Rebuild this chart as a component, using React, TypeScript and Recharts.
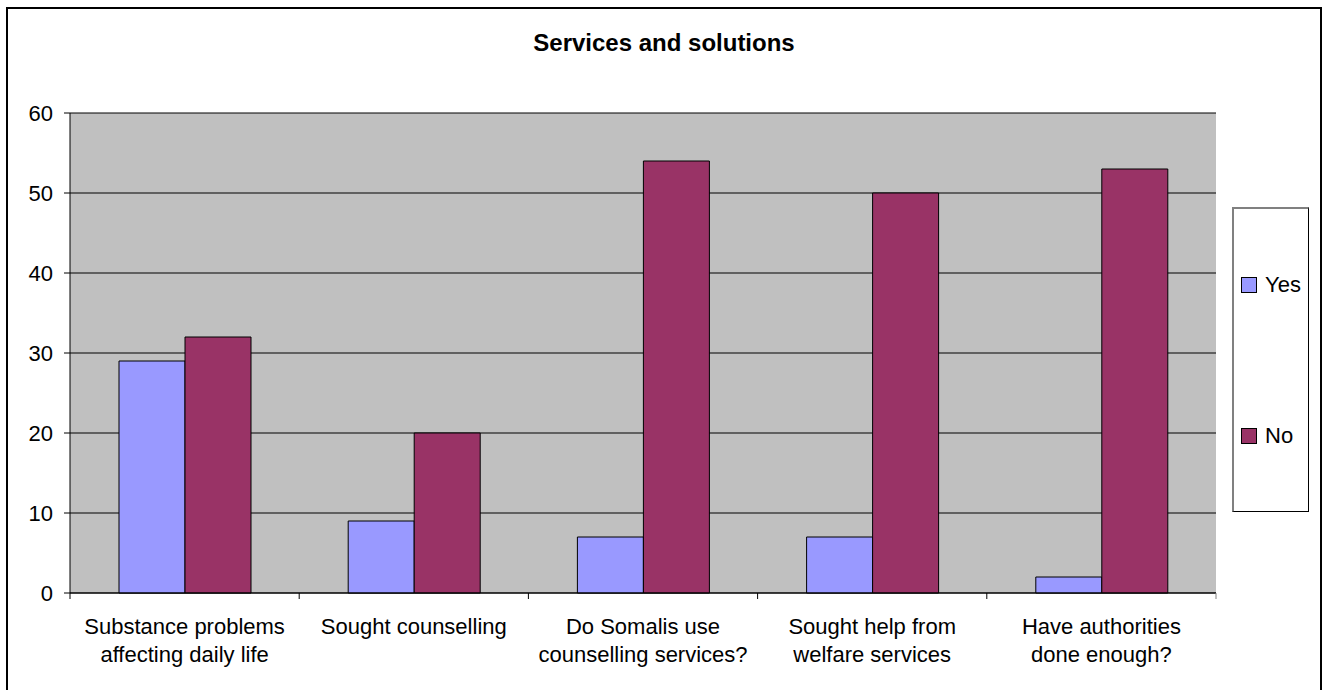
import React from "react"
import { BarChart, Bar, XAxis, YAxis, CartesianGrid, Legend } from "recharts"

const FONT = "'Liberation Sans', Arial, sans-serif"

// survey questions along the x axis
const categories = [
  "Substance problems\naffecting daily life",
  "Sought counselling",
  "Do Somalis use\ncounselling services?",
  "Sought help from\nwelfare services",
  "Have authorities\ndone enough?",
]
const seriesNames = ["Yes", "No"]
const yesValues = [29, 9, 7, 7, 2]
const noValues = [32, 20, 54, 50, 53]
const yTicks = [0, 10, 20, 30, 40, 50, 60]

const data = categories.map((question, i) => ({
  question,
  yes: yesValues[i],
  no: noValues[i],
}))

// Category label (multi-line) plus tick marks on the band boundaries
function CategoryTick(props: any) {
  const { x, y, payload, index, visibleTicksCount } = props
  const half = payload.offset ?? 0
  const lines = String(payload.value).split("\n")
  return (
    <g>
      <line x1={x - half} x2={x - half} y1={y - 6} y2={y} stroke="#000" />
      {index === visibleTicksCount - 1 && (
        <line x1={x + half} x2={x + half} y1={y - 6} y2={y} stroke="#808080" />
      )}
      <text x={x} y={y + 35} textAnchor="middle" fill="#000" fontSize={22} fontFamily={FONT}>
        {lines.map((line, i) => (
          <tspan key={i} x={x} dy={i === 0 ? 0 : 28}>
            {line}
          </tspan>
        ))}
      </text>
    </g>
  )
}

function LegendBox({ payload }: any) {
  const items = [...(payload || [])].sort(
    (a: any, b: any) => seriesNames.indexOf(a.value) - seriesNames.indexOf(b.value)
  )
  return (
    <div
      style={{
        width: 77,
        height: 305,
        boxSizing: "border-box",
        borderTop: "2px solid #808080",
        borderLeft: "2px solid #808080",
        borderRight: "1px solid #000",
        borderBottom: "1px solid #000",
        background: "#fff",
        display: "flex",
        flexDirection: "column",
        justifyContent: "space-around",
        fontFamily: FONT,
      }}
    >
      {items.map((item: any) => (
        <div key={item.value} style={{ display: "flex", alignItems: "center", paddingLeft: 7 }}>
          <span
            style={{
              display: "inline-block",
              width: 14,
              height: 14,
              border: "1px solid #000",
              background: item.color,
            }}
          />
          <span style={{ marginLeft: 8, fontSize: 22, lineHeight: "22px", color: "#000" }}>{item.value}</span>
        </div>
      ))}
    </div>
  )
}

export default function App() {
  return (
    <div style={{ position: "absolute", left: 0, top: 0, width: 1323, height: 690, overflow: "hidden", background: "#fff" }}>
      <div
        style={{
          position: "absolute",
          left: 6,
          top: 7,
          width: 1316,
          height: 700,
          boxSizing: "border-box",
          border: "2px solid #000",
        }}
      />
      <div
        style={{
          position: "absolute",
          left: 6,
          top: 29,
          width: 1316,
          textAlign: "center",
          fontFamily: FONT,
          fontWeight: "bold",
          fontSize: 24,
          color: "#000",
        }}
      >
        Services and solutions
      </div>
      <div style={{ position: "absolute", left: 0, top: 0 }}>
        <BarChart
          width={1323}
          height={690}
          data={data}
          margin={{ top: 113, right: 107, bottom: 7, left: 0 }}
          barGap={0}
          barSize={66}
        >
          <CartesianGrid vertical={false} stroke="#000" fill="#C0C0C0" fillOpacity={1} />
          <XAxis
            dataKey="question"
            height={90}
            interval={0}
            axisLine={{ stroke: "#000" }}
            tickLine={false}
            tickSize={6}
            tickMargin={0}
            tick={<CategoryTick />}
          />
          <XAxis xAxisId="frame" dataKey="question" orientation="top" height={0} tick={false} tickLine={false} axisLine={{ stroke: "#808080", strokeWidth: 1.5 }} />
          <YAxis
            domain={[0, 60]}
            ticks={yTicks}
            width={70}
            axisLine={{ stroke: "#000" }}
            tickLine={{ stroke: "#000" }}
            tickSize={6}
            tickMargin={11}
            tick={{ fill: "#000", fontSize: 22, fontFamily: FONT }}
          />
          <YAxis yAxisId="frame" orientation="right" width={0} domain={[0, 60]} tick={false} tickLine={false} axisLine={{ stroke: "#808080" }} />
          <Legend
            layout="vertical"
            align="center"
            verticalAlign="middle"
            content={<LegendBox />}
            wrapperStyle={{ left: 1232, top: 207, width: 77, height: 305 }}
          />
          <Bar dataKey="yes" name="Yes" fill="#9999FF" stroke="#000" strokeWidth={1} isAnimationActive={false} />
          <Bar dataKey="no" name="No" fill="#993366" stroke="#000" strokeWidth={1} isAnimationActive={false} />
        </BarChart>
      </div>
    </div>
  )
}
